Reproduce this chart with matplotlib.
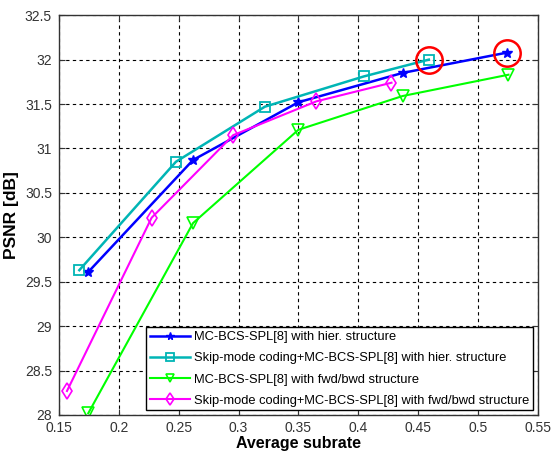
import matplotlib.pyplot as plt

plt.rcParams['font.family'] = ['Liberation Sans', 'DejaVu Sans']

# data
x_hier = [0.1745, 0.262, 0.350, 0.437, 0.5247]
y_hier = [29.61, 30.87, 31.52, 31.85, 32.08]

x_skip_hier = [0.167, 0.2477, 0.322, 0.4045, 0.459]
y_skip_hier = [29.63, 30.85, 31.47, 31.81, 32.00]

x_fb = [0.1745, 0.262, 0.350, 0.437, 0.5255]
y_fb = [28.02, 30.16, 31.21, 31.59, 31.83]

x_skip_fb = [0.1567, 0.2274, 0.2956, 0.365, 0.4278]
y_skip_fb = [28.27, 30.22, 31.15, 31.53, 31.74]

labels = ['MC-BCS-SPL[8] with hier. structure',
          'Skip-mode coding+MC-BCS-SPL[8] with hier. structure',
          'MC-BCS-SPL[8] with fwd/bwd structure',
          'Skip-mode coding+MC-BCS-SPL[8] with fwd/bwd structure']

xticks = [0.15, 0.2, 0.25, 0.3, 0.35, 0.4, 0.45, 0.5, 0.55]
yticks = [28, 28.5, 29, 29.5, 30, 30.5, 31, 31.5, 32, 32.5]

fig = plt.figure(figsize=(5.51, 4.59), dpi=100)
ax = fig.add_axes([0.107, 0.0959, 0.869, 0.871])

ax.plot(x_hier, y_hier, color='#0000FF', lw=1.8, marker='*', ms=7, label=labels[0])
ax.plot(x_skip_hier, y_skip_hier, color='#00B5B5', lw=1.8, marker='s', ms=6.5,
        mfc='none', mew=1.3, label=labels[1])
ax.plot(x_fb, y_fb, color='#00FF00', lw=1.5, marker='v', ms=8,
        mfc='none', mew=1.2, label=labels[2])
ax.plot(x_skip_fb, y_skip_fb, color='#FF00FF', lw=1.5, marker='d', ms=8,
        mfc='none', mew=1.2, label=labels[3])

# red circles on the highest points
ax.plot([x_skip_hier[-1], x_hier[-1]], [y_skip_hier[-1], y_hier[-1]], ls='none',
        marker='o', ms=19, mfc='none', mec='red', mew=1.8)

ax.set_xlim(0.15, 0.55)
ax.set_ylim(28, 32.5)
ax.set_xticks(xticks)
ax.set_yticks(yticks)
ax.set_xticklabels([('%g' % t) for t in xticks])
ax.set_yticklabels([('%g' % t) for t in yticks])
ax.tick_params(direction='in', top=True, right=True, labelsize=10,
               labelcolor='#333333', length=4, color='#333333')
ax.tick_params(axis='x', pad=4)
ax.tick_params(axis='y', pad=5)
ax.grid(True, color='black', ls=(0, (3, 3)), lw=0.8)
for s in ax.spines.values():
    s.set_linewidth(1.0)
    s.set_color('#333333')

ax.set_xlabel('Average subrate', fontsize=11.5, fontweight='bold', labelpad=1)
ax.set_ylabel('PSNR [dB]', fontsize=12.5, fontweight='bold', labelpad=4)

leg = ax.legend(loc='lower right', fontsize=9.3, handlelength=3.1,
                fancybox=False, framealpha=1, edgecolor='black',
                borderpad=0.3, labelspacing=0.7, handletextpad=0.3,
                borderaxespad=0.35, markerscale=0.8)
leg.get_frame().set_linewidth(1.0)

fig.savefig('out.png', dpi=100)
